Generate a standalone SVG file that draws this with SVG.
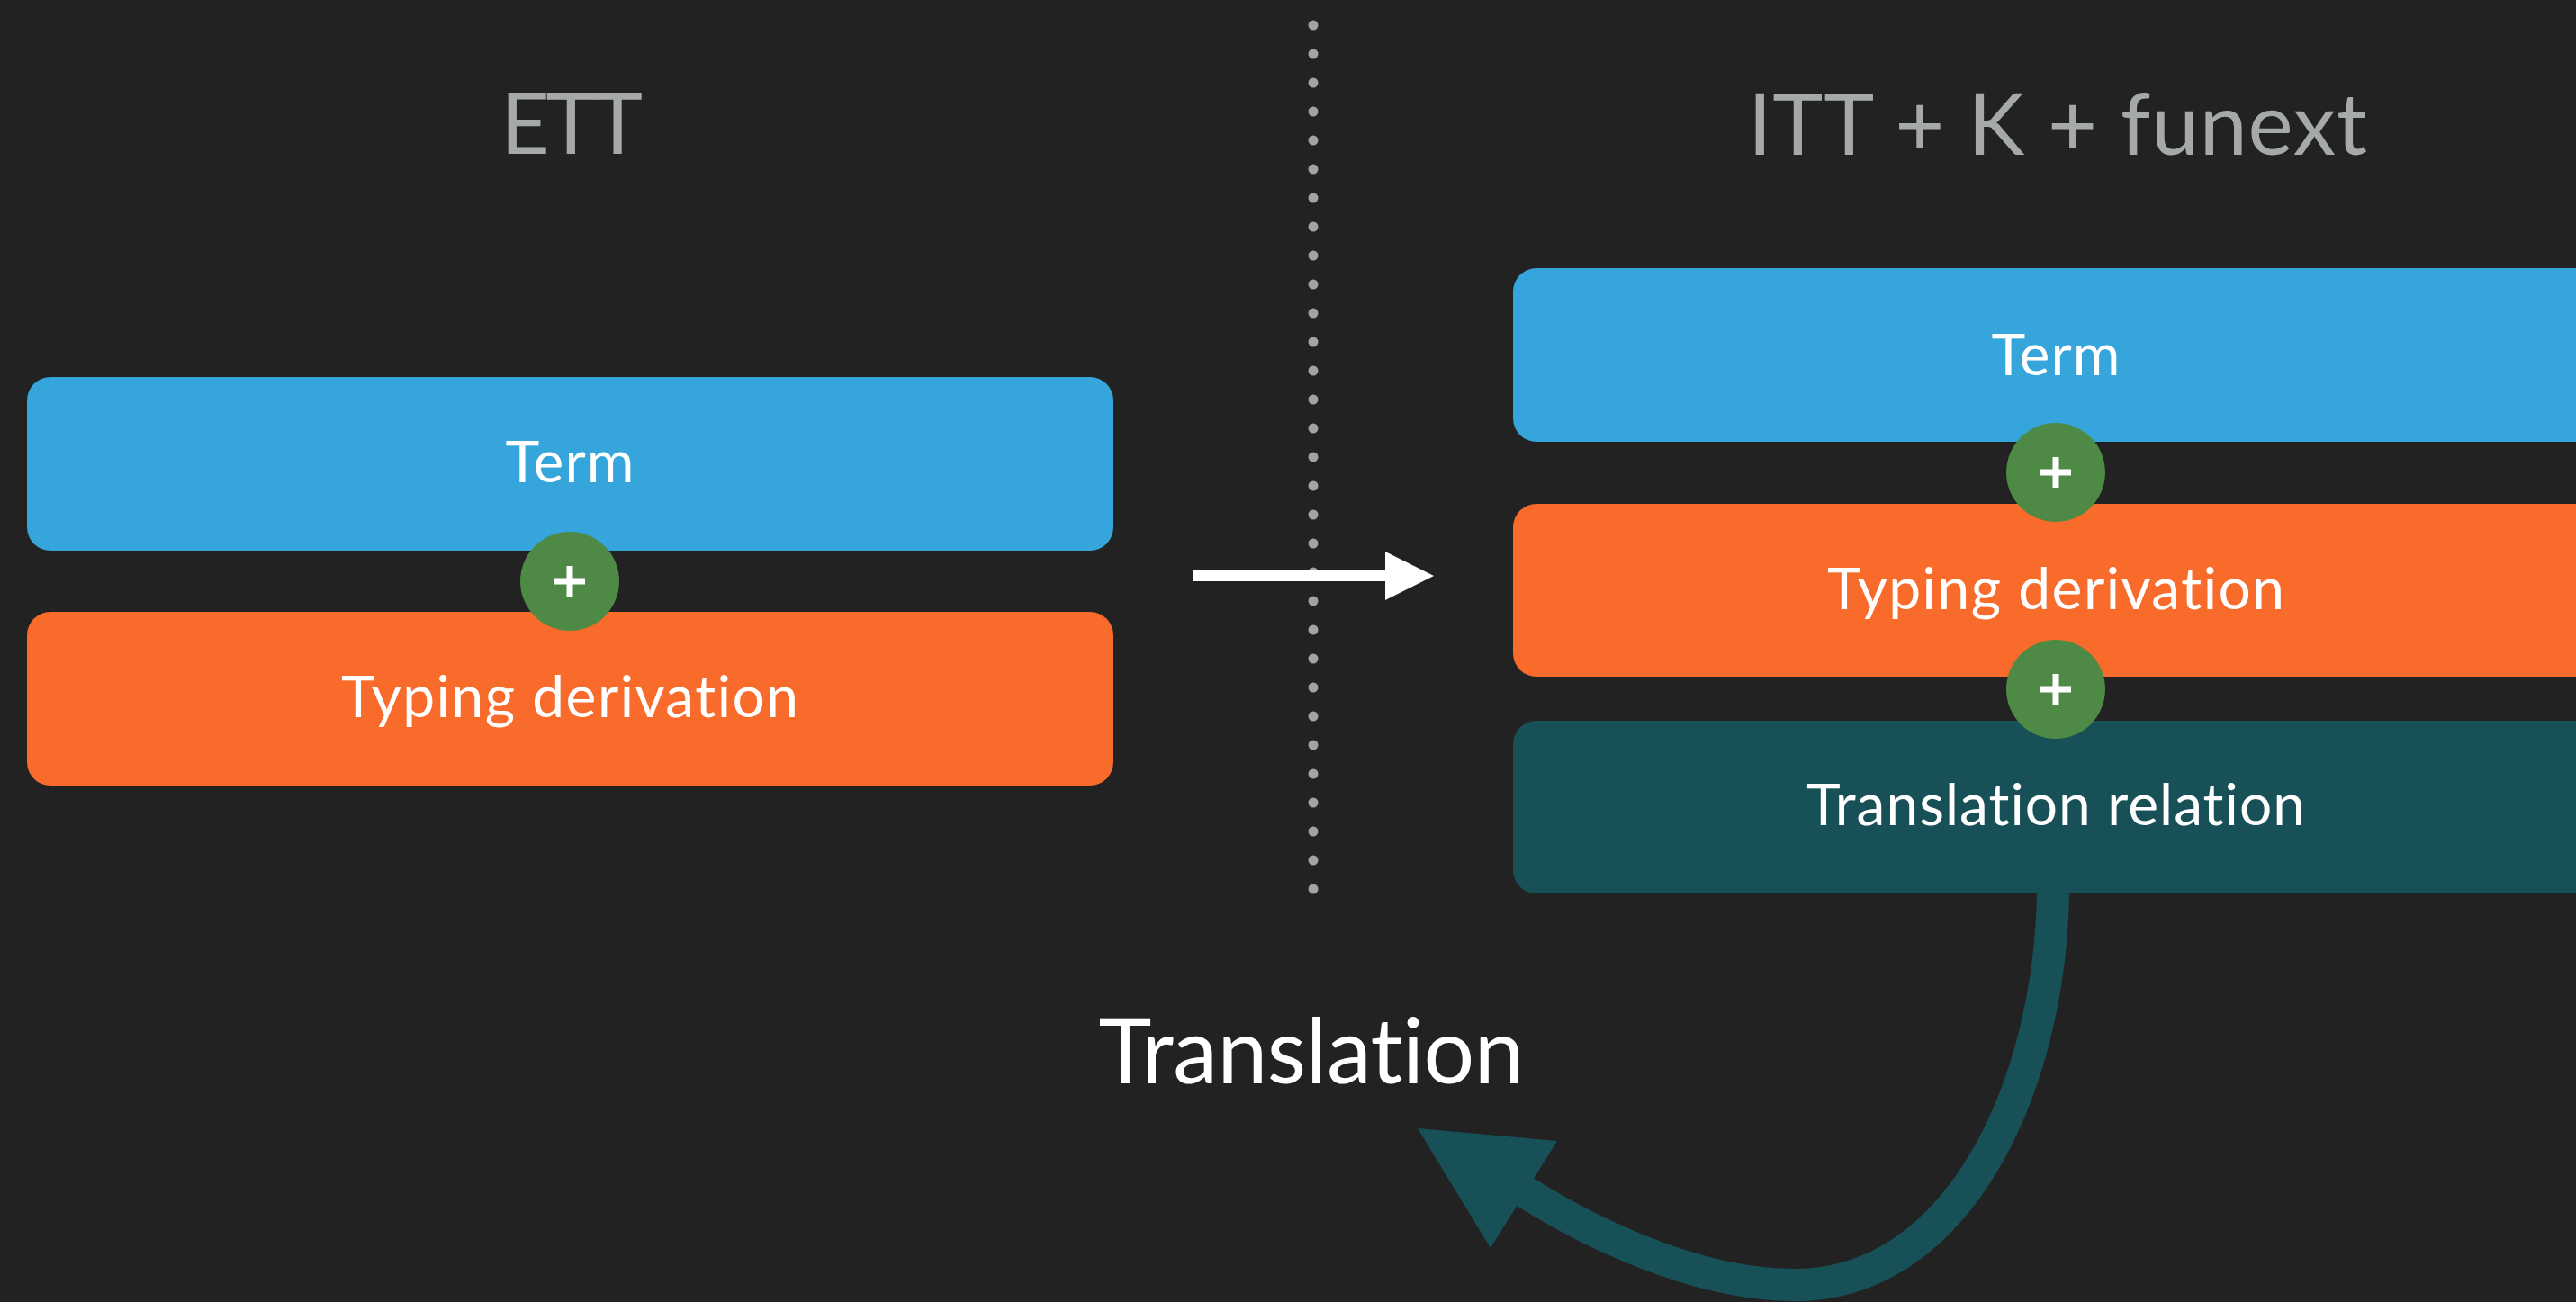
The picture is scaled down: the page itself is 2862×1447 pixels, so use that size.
<svg xmlns="http://www.w3.org/2000/svg" width="2862" height="1447" viewBox="0 0 2862 1447">
  <style>
    .bg { fill: #222222; }
    .term { fill: #36a5db; }
    .typing { fill: #f96b2a; }
    .rel { fill: #175157; }
    .plus-bg { fill: #4e8a45; }
    .plus { fill: none; stroke: #ffffff; stroke-width: 7; }
    text { font-family: Lato, "Open Sans", sans-serif; text-anchor: middle; font-variant-ligatures: none; }
    .label { fill: #ffffff; font-size: 64px; }
    .title { fill: #a5aaa8; font-size: 95px; }
    .big { fill: #ffffff; font-size: 100px; }
    .dot { fill: #a3a3a3; }
  </style>

  <rect class="bg" x="0" y="0" width="2862" height="1447"/>

  <!-- column headings -->
  <text class="title" x="635" y="171" textLength="158" lengthAdjust="spacing">ETT</text>
  <text class="title" x="2286" y="172" textLength="688" lengthAdjust="spacing">ITT + K + funext</text>

  <!-- dotted separator -->
  <g id="separator">
    <circle class="dot" cx="1459" cy="28" r="5.5"/>
    <circle class="dot" cx="1459" cy="60" r="5.5"/>
    <circle class="dot" cx="1459" cy="92" r="5.5"/>
    <circle class="dot" cx="1459" cy="124" r="5.5"/>
    <circle class="dot" cx="1459" cy="156" r="5.5"/>
    <circle class="dot" cx="1459" cy="188" r="5.5"/>
    <circle class="dot" cx="1459" cy="220" r="5.5"/>
    <circle class="dot" cx="1459" cy="252" r="5.5"/>
    <circle class="dot" cx="1459" cy="284" r="5.5"/>
    <circle class="dot" cx="1459" cy="316" r="5.5"/>
    <circle class="dot" cx="1459" cy="348" r="5.5"/>
    <circle class="dot" cx="1459" cy="380" r="5.5"/>
    <circle class="dot" cx="1459" cy="412" r="5.5"/>
    <circle class="dot" cx="1459" cy="444" r="5.5"/>
    <circle class="dot" cx="1459" cy="476" r="5.5"/>
    <circle class="dot" cx="1459" cy="508" r="5.5"/>
    <circle class="dot" cx="1459" cy="540" r="5.5"/>
    <circle class="dot" cx="1459" cy="572" r="5.5"/>
    <circle class="dot" cx="1459" cy="604" r="5.5"/>
    <circle class="dot" cx="1459" cy="636" r="5.5"/>
    <circle class="dot" cx="1459" cy="668" r="5.5"/>
    <circle class="dot" cx="1459" cy="700" r="5.5"/>
    <circle class="dot" cx="1459" cy="732" r="5.5"/>
    <circle class="dot" cx="1459" cy="764" r="5.5"/>
    <circle class="dot" cx="1459" cy="796" r="5.5"/>
    <circle class="dot" cx="1459" cy="828" r="5.5"/>
    <circle class="dot" cx="1459" cy="860" r="5.5"/>
    <circle class="dot" cx="1459" cy="892" r="5.5"/>
    <circle class="dot" cx="1459" cy="924" r="5.5"/>
    <circle class="dot" cx="1459" cy="956" r="5.5"/>
    <circle class="dot" cx="1459" cy="988" r="5.5"/>
  </g>

  <!-- ETT side -->
  <g id="ett-term">
    <rect class="term" x="30" y="419" width="1207" height="193" rx="26"/>
    <text class="label" x="633" y="536" textLength="143" lengthAdjust="spacing">Term</text>
  </g>
  <g id="ett-typing">
    <rect class="typing" x="30" y="680" width="1207" height="193" rx="26"/>
    <text class="label" x="633" y="797" textLength="508" lengthAdjust="spacing">Typing derivation</text>
  </g>
  <g id="ett-plus">
    <circle class="plus-bg" cx="633" cy="646" r="55"/>
    <path class="plus" d="M633 629 V663 M616 646 H650"/>
  </g>

  <!-- ITT side -->
  <g id="itt-term">
    <rect class="term" x="1681" y="298" width="1207" height="193" rx="26"/>
    <text class="label" x="2284" y="417" textLength="143" lengthAdjust="spacing">Term</text>
  </g>
  <g id="itt-typing">
    <rect class="typing" x="1681" y="560" width="1207" height="192" rx="26"/>
    <text class="label" x="2284" y="677" textLength="508" lengthAdjust="spacing">Typing derivation</text>
  </g>
  <g id="itt-relation">
    <rect class="rel" x="1681" y="801" width="1207" height="192" rx="26"/>
    <text class="label" x="2284" y="917" textLength="554" lengthAdjust="spacing">Translation relation</text>
  </g>
  <g id="itt-plus-1">
    <circle class="plus-bg" cx="2284" cy="525" r="55"/>
    <path class="plus" d="M2284 508 V542 M2267 525 H2301"/>
  </g>
  <g id="itt-plus-2">
    <circle class="plus-bg" cx="2284" cy="766" r="55"/>
    <path class="plus" d="M2284 749 V783 M2267 766 H2301"/>
  </g>

  <text class="big" x="1457" y="1204" textLength="473" lengthAdjust="spacing">Translation</text>

  <!-- connectors -->
  <g id="connectors">
    <path d="M1325 640 H1545" stroke="#ffffff" stroke-width="12" fill="none"/>
    <polygon points="1539,613 1593,640 1539,667" fill="#ffffff"/>
    <path d="M2281 993 C2278 1200 2180 1428 1994 1428 C1900 1428 1790 1385 1690 1322" stroke="#175157" stroke-width="36" fill="none"/>
    <polygon points="1575,1254 1730,1268 1656,1387" fill="#175157"/>
  </g>
</svg>
